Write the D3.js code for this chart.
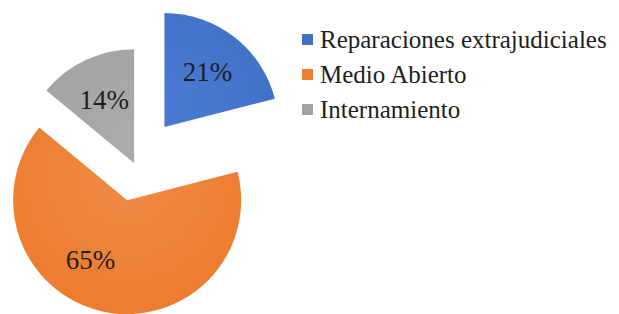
<!DOCTYPE html>
<html><head><meta charset="utf-8">
<script src="https://cdn.jsdelivr.net/npm/d3@7"></script>
<style>body{margin:0;background:#fff}svg{display:block}text{font-family:'Liberation Serif','Times New Roman',serif}</style>
</head><body>
<svg id="c" width="619" height="314"></svg>
<script>
const categories = ["Reparaciones extrajudiciales", "Medio Abierto", "Internamiento"];
const values = [21, 65, 14];
const labels = ["21%", "65%", "14%"];
const colors = ["#4170c6", "#ed7d31", "#a3a3a3"];
const lightColors = ["#4b7ad4", "#f08a45", "#ababab"];

// layout/style constants
const explode = [48, 36, 2];
const labelRot = [0, 19 * Math.PI / 180, 0];

const svg = d3.select("#c");
const cx = 135, cy = 165, R = 114;
const defs = svg.append("defs");
colors.forEach((c, i) => {
  const g = defs.append("radialGradient").attr("id", "g" + i)
    .attr("gradientUnits", "userSpaceOnUse").attr("cx", 0).attr("cy", -R * 0.2).attr("r", R * 1.1);
  g.append("stop").attr("offset", "0%").attr("stop-color", lightColors[i]);
  g.append("stop").attr("offset", "100%").attr("stop-color", c);
});

const pie = d3.pie().sort(null).value(d => d)(values);
const arc = d3.arc().innerRadius(0).outerRadius(R);
const g = svg.append("g").attr("transform", `translate(${cx},${cy})`);
const slices = g.selectAll("g.s").data(pie).join("g")
  .attr("transform", (d, i) => {
    const a = (d.startAngle + d.endAngle) / 2;
    return `translate(${Math.sin(a) * explode[i]},${-Math.cos(a) * explode[i]})`;
  });
slices.append("path").attr("d", arc).attr("fill", (d, i) => `url(#g${i})`);

const lr = R * 0.615;
slices.append("text")
  .attr("transform", (d, i) => {
    const a = (d.startAngle + d.endAngle) / 2 + labelRot[i];
    return `translate(${Math.sin(a) * lr},${-Math.cos(a) * lr})`;
  })
  .attr("text-anchor", "middle").attr("dy", "0.34em")
  .attr("font-size", 27).attr("fill", "#1e1e1e")
  .text((d, i) => labels[i]);

const leg = svg.append("g").attr("transform", "translate(302,0)");
const ly = d3.scalePoint().domain(categories).range([47.5, 117.5]);
categories.forEach((c, i) => {
  leg.append("rect").attr("x", 0).attr("y", ly(c) - 13.5).attr("width", 11).attr("height", 11).attr("fill", colors[i]);
  leg.append("text").attr("x", 18).attr("y", ly(c))
    .attr("font-size", 25).attr("fill", "#1e1e1e").text(c);
});
</script>
</body></html>
